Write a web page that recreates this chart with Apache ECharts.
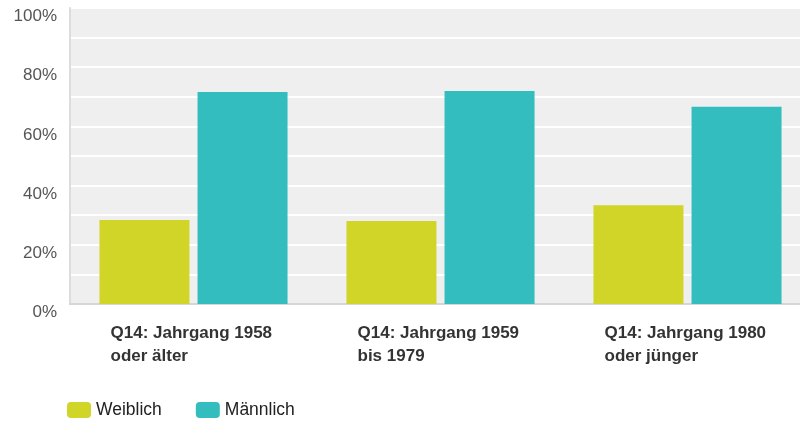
<!DOCTYPE html>
<html>
<head>
<meta charset="utf-8">
<script src="https://cdn.jsdelivr.net/npm/echarts@6/dist/echarts.min.js"></script>
<style>
  html, body { margin: 0; padding: 0; background: #fff; }
  #chart { width: 800px; height: 421px; }
</style>
</head>
<body>
<div id="chart"></div>
<script>
// Kategorien (zweizeilig)
var categories = [
  'Q14: Jahrgang 1958\noder älter',
  'Q14: Jahrgang 1959\nbis 1979',
  'Q14: Jahrgang 1980\noder jünger'
];
var weiblich = [28.4, 28.0, 33.4];
var maennlich = [71.6, 72.0, 66.6];

var chart = echarts.init(document.getElementById('chart'));

var option = {
  animation: false,
  grid: {
    left: 70,
    top: 8,
    right: -11,
    bottom: 117,
    outerBoundsMode: 'none',
    containLabel: false,
    show: true,
    backgroundColor: '#efefef',
    borderWidth: 0
  },
  legend: {
    left: 62,
    top: 396,
    itemWidth: 24,
    itemHeight: 16,
    itemGap: 34,
    icon: 'roundRect',
    textStyle: { fontSize: 17.5, color: '#222', fontFamily: 'Liberation Sans' },
    data: ['Weiblich', 'Männlich']
  },
  xAxis: {
    type: 'category',
    data: categories,
    axisTick: { show: false },
    axisLine: { show: true, lineStyle: { color: '#d6d6d6', width: 2 } },
    axisLabel: {
      margin: 18,
      formatter: function (v) {
        return v.split('\n').map(function (s) { return '{a|' + s + '}'; }).join('\n');
      },
      rich: {
        a: {
          width: 166,
          align: 'left',
          fontSize: 17,
          fontWeight: 'bold',
          color: '#333',
          lineHeight: 23,
          fontFamily: 'Liberation Sans'
        }
      }
    }
  },
  yAxis: {
    type: 'value',
    min: 0,
    max: 100,
    interval: 10,
    axisLine: { show: true, lineStyle: { color: '#dcdcdc', width: 2 } },
    axisTick: { show: false },
    splitLine: { show: true, lineStyle: { color: '#ffffff', width: 2 } },
    axisLabel: {
      formatter: function (v) { return v % 20 === 0 ? v + '%' : ''; },
      verticalAlign: 'top',
      margin: 13,
      fontSize: 17,
      color: '#555',
      fontFamily: 'Liberation Sans'
    }
  },
  series: [
    {
      name: 'Weiblich',
      type: 'bar',
      data: weiblich,
      barWidth: 90,
      barGap: '9%',
      itemStyle: { color: '#d0d528' }
    },
    {
      name: 'Männlich',
      type: 'bar',
      data: maennlich,
      barWidth: 90,
      itemStyle: { color: '#33bdbe' }
    }
  ]
};

chart.setOption(option, true);
window.onresize = chart.resize;
</script>
</body>
</html>
